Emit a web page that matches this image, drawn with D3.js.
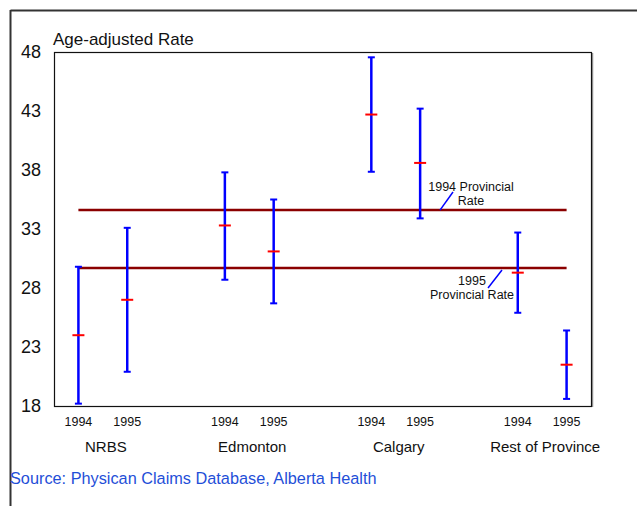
<!DOCTYPE html>
<html><head><meta charset="utf-8">
<script src="https://cdn.jsdelivr.net/npm/d3@7"></script>
<style>body{margin:0;background:#fff;}svg{display:block;font-family:"Liberation Sans",Arial,sans-serif;}</style>
</head><body>
<svg id="c" width="637" height="506"></svg>
<script>
const groups = ["NRBS", "Edmonton", "Calgary", "Rest of Province"];
const years = ["1994", "1995"];
const mean1994 = [24.0, 33.3, 42.7, 29.3];
const low1994 = [18.2, 28.7, 37.85, 25.9];
const high1994 = [29.8, 37.8, 47.55, 32.7];
const mean1995 = [27.0, 31.1, 38.6, 21.5];
const low1995 = [20.9, 26.7, 33.9, 18.6];
const high1995 = [33.1, 35.5, 43.2, 24.4];
const provincial = [{year: "1994", rate: 34.6}, {year: "1995", rate: 29.7}];
const yTicks = [18, 23, 28, 33, 38, 43, 48];

const svg = d3.select("#c");
const L = 54, R = 591, T = 52, B = 406;

const slots = [];
groups.forEach((g, gi) => { years.forEach(yr => slots.push(g + "|" + yr)); if (gi < groups.length - 1) slots.push("gap" + gi); });
const x = d3.scaleBand().domain(slots).range([L, R]).padding(0);
const cx = k => x(k) + x.bandwidth() / 2;
const y = d3.scaleLinear().domain([18, 48]).range([B, T]);

const rows = [];
groups.forEach((g, i) => {
  rows.push({key: g + "|1994", year: "1994", m: mean1994[i], lo: low1994[i], hi: high1994[i]});
  rows.push({key: g + "|1995", year: "1995", m: mean1995[i], lo: low1995[i], hi: high1995[i]});
});

// outer frame
svg.append("line").attr("x1", 10.5).attr("x2", 637).attr("y1", 10.5).attr("y2", 10.5).attr("stroke", "#333").attr("stroke-width", 2);
svg.append("line").attr("x1", 10.5).attr("x2", 10.5).attr("y1", 10).attr("y2", 506).attr("stroke", "#333").attr("stroke-width", 2);

// plot frame
svg.append("line").attr("x1", R + 1.5).attr("x2", R + 1.5).attr("y1", T + 1).attr("y2", B + 1).attr("stroke", "#999").attr("stroke-width", 1.5);
svg.append("rect").attr("x", L + 0.5).attr("y", T + 0.5).attr("width", R - L).attr("height", B - T)
  .attr("fill", "none").attr("stroke", "#111").attr("stroke-width", 1.2);

// y axis labels
const yAxis = d3.axisLeft(y).tickValues(yTicks).tickSize(0).tickPadding(0);
const ya = svg.append("g").attr("transform", `translate(41,0)`).call(yAxis);
ya.select(".domain").remove();
ya.selectAll("text").attr("font-size", 18).attr("fill", "#111").attr("font-family", "Liberation Sans, Arial, sans-serif");

svg.append("text").attr("x", 53).attr("y", 45).attr("font-size", 17).attr("fill", "#111").text("Age-adjusted Rate");

// provincial rate lines
const first = cx(slots[0]), last = cx(slots[slots.length - 1]);
svg.selectAll(".prov").data(provincial).enter().append("line")
  .attr("x1", first).attr("x2", last)
  .attr("y1", d => y(d.rate)).attr("y2", d => y(d.rate))
  .attr("stroke", "#8b0000").attr("stroke-width", 2.5);

// error bars
const eb = svg.selectAll(".eb").data(rows).enter().append("g");
eb.append("line").attr("x1", d => cx(d.key)).attr("x2", d => cx(d.key))
  .attr("y1", d => y(d.hi)).attr("y2", d => y(d.lo)).attr("stroke", "#0000ff").attr("stroke-width", 2.5);
eb.append("line").attr("x1", d => cx(d.key) - 3.5).attr("x2", d => cx(d.key) + 3.5)
  .attr("y1", d => y(d.hi)).attr("y2", d => y(d.hi)).attr("stroke", "#0000ff").attr("stroke-width", 2);
eb.append("line").attr("x1", d => cx(d.key) - 3.5).attr("x2", d => cx(d.key) + 3.5)
  .attr("y1", d => y(d.lo)).attr("y2", d => y(d.lo)).attr("stroke", "#0000ff").attr("stroke-width", 2);
eb.append("line").attr("x1", d => cx(d.key) - 6).attr("x2", d => cx(d.key) + 6)
  .attr("y1", d => y(d.m)).attr("y2", d => y(d.m)).attr("stroke", "#ff0000").attr("stroke-width", 2);

// x tick labels (years)
svg.selectAll(".yr").data(rows).enter().append("text")
  .attr("x", d => cx(d.key)).attr("y", 426).attr("text-anchor", "middle")
  .attr("font-size", 12.5).attr("fill", "#111").text(d => d.year);

// group labels
svg.selectAll(".grp").data(groups).enter().append("text")
  .attr("x", g => (cx(g + "|1994") + cx(g + "|1995")) / 2 + 3).attr("y", 452).attr("text-anchor", "middle")
  .attr("font-size", 15).attr("fill", "#111").text(g => g);

// annotations
const p94 = y(provincial[0].rate), p95 = y(provincial[1].rate);
svg.append("text").attr("x", 471).attr("y", 191).attr("text-anchor", "middle").attr("font-size", 12.5).attr("fill", "#111").text("1994 Provincial");
svg.append("text").attr("x", 471).attr("y", 205).attr("text-anchor", "middle").attr("font-size", 12.5).attr("fill", "#111").text("Rate");
svg.append("line").attr("x1", 453).attr("y1", 192).attr("x2", 440).attr("y2", p94).attr("stroke", "#0000ff").attr("stroke-width", 1.5);

svg.append("text").attr("x", 472).attr("y", 285).attr("text-anchor", "middle").attr("font-size", 12.5).attr("fill", "#111").text("1995");
svg.append("text").attr("x", 472).attr("y", 299).attr("text-anchor", "middle").attr("font-size", 12.5).attr("fill", "#111").text("Provincial Rate");
svg.append("line").attr("x1", 502).attr("y1", p95 + 2).attr("x2", 488).attr("y2", 288).attr("stroke", "#0000ff").attr("stroke-width", 1.5);

// source
svg.append("text").attr("x", 10).attr("y", 484).attr("font-size", 16.3).attr("fill", "#1f4fd8").text("Source: Physican Claims Database, Alberta Health");
</script>
</body></html>
